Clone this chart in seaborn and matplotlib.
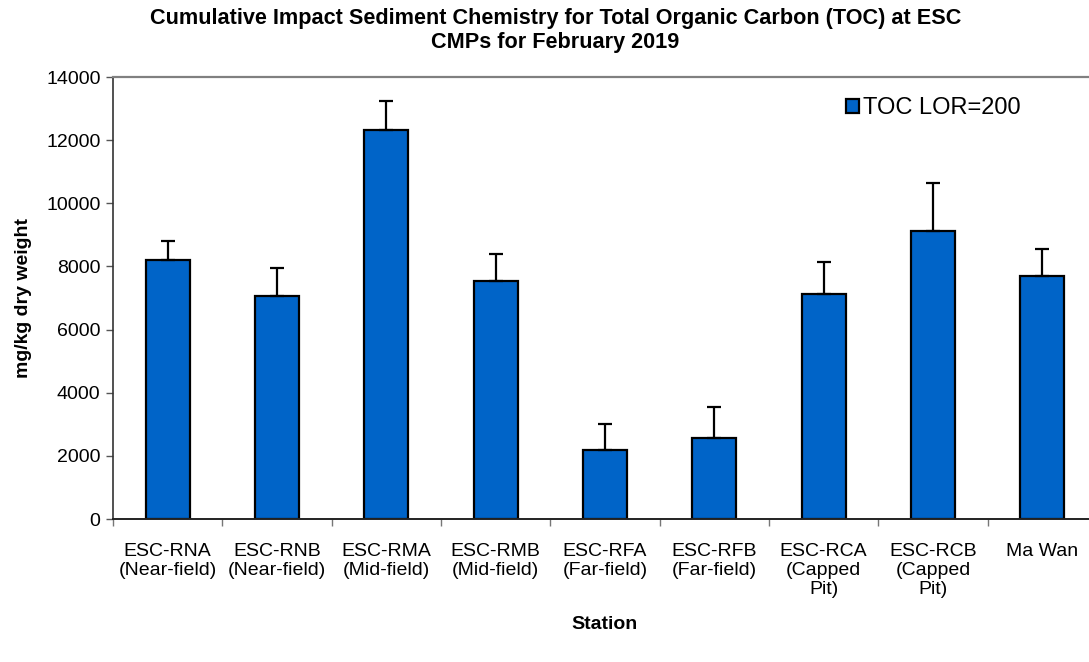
import numpy as np
import pandas as pd
import matplotlib
matplotlib.use('Agg')
import matplotlib.pyplot as plt
import seaborn as sns
from matplotlib.patches import Patch

stations = ['ESC-RNA\n(Near-field)', 'ESC-RNB\n(Near-field)', 'ESC-RMA\n(Mid-field)',
            'ESC-RMB\n(Mid-field)', 'ESC-RFA\n(Far-field)', 'ESC-RFB\n(Far-field)',
            'ESC-RCA\n(Capped\nPit)', 'ESC-RCB\n(Capped\nPit)', 'Ma Wan']
toc_mean = [8200, 7050, 12330, 7530, 2190, 2550, 7130, 9130, 7700]
toc_err = [600, 900, 900, 860, 830, 1010, 1010, 1500, 840]
yticks = [0, 2000, 4000, 6000, 8000, 10000, 12000, 14000]

sns.set_style('white')
plt.rcParams['font.family'] = ['Liberation Sans', 'DejaVu Sans']
plt.rcParams['text.color'] = 'black'
plt.rcParams['axes.labelcolor'] = 'black'
plt.rcParams['xtick.color'] = 'black'
plt.rcParams['ytick.color'] = 'black'

df = pd.DataFrame({'Station': stations, 'TOC': toc_mean})

fig = plt.figure(figsize=(10.89, 6.62), dpi=100)
ax = fig.add_axes([113 / 1089, 143 / 662, 984 / 1089, 442 / 662])

bar_color = '#0064C8'
sns.barplot(data=df, x='Station', y='TOC', color=bar_color, width=0.4,
            edgecolor='black', linewidth=1.6, saturation=1, ax=ax)

x = np.arange(len(stations))
ax.errorbar(x, toc_mean, yerr=[np.zeros(len(toc_err)), toc_err], fmt='none',
            ecolor='black', elinewidth=1.6, capsize=5, capthick=1.6, zorder=1)

ax.set_xlim(-0.5, len(stations) - 0.5)
ax.set_ylim(0, 14000)
ax.set_yticks(yticks)
ax.set_yticklabels([str(v) for v in yticks], fontsize=14)
ax.tick_params(axis='y', length=5, width=1, color='#555555', labelcolor='black', pad=4, left=True)
ax.set_xticks(x)
ax.set_xticklabels(stations, fontsize=14, linespacing=1.15)
ax.tick_params(axis='x', which='major', length=0, pad=17, labelcolor='black')
ax.set_xticks(np.arange(len(stations) + 1) - 0.5, minor=True)
ax.tick_params(axis='x', which='minor', length=5, width=1, color='#777777', bottom=True)

ax.spines['right'].set_visible(False)
ax.spines['top'].set_color('#808080')
ax.spines['top'].set_linewidth(1.6)
ax.spines['left'].set_color('#333333')
ax.spines['left'].set_linewidth(1.2)
ax.spines['bottom'].set_color('#222222')
ax.spines['bottom'].set_linewidth(1.4)

ax.set_ylabel('mg/kg dry weight', fontsize=14, fontweight='bold', labelpad=10, color='black')
ax.set_xlabel('Station', fontsize=14, fontweight='bold', labelpad=13, color='black')

handle = Patch(facecolor=bar_color, edgecolor='black', linewidth=1.6)
ax.legend([handle], ['TOC LOR=200'], loc='upper left', bbox_to_anchor=(0.735, 0.975),
          frameon=False, fontsize=17, handlelength=0.55, handleheight=0.55,
          handletextpad=0.2, borderaxespad=0, labelcolor='black')

fig.suptitle('Cumulative Impact Sediment Chemistry for Total Organic Carbon (TOC) at ESC\nCMPs for February 2019',
             x=0.51, y=0.988, fontsize=15.6, fontweight='bold', linespacing=1.2, color='black')

fig.savefig('out.png', dpi=100)
